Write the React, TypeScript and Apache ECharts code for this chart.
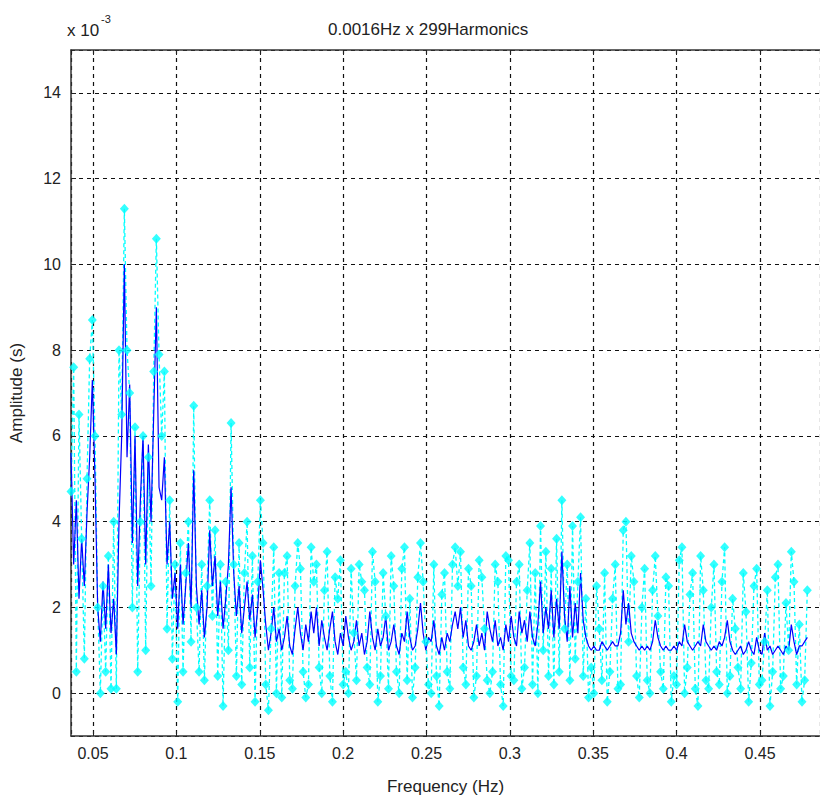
import React, { useEffect, useRef } from "react";
import * as echarts from "echarts";

// Frequency grid: harmonic index * base frequency
const BASE_FREQ = 0.0016;
const FIRST_HARMONIC = 23;

// Blue solid spectrum (x 10^-3 s)
const blueValues: number[] = [
  5.6, 3.0, 4.5, 2.2, 3.6, 2.5, 4.2, 5.5, 7.3, 5.0,
  2.0, 1.2, 2.6, 1.5, 3.0, 1.4, 2.2, 0.9, 4.0, 6.0,
  10.0, 5.5, 7.2, 3.5, 6.0, 2.5, 4.5, 6.0, 3.0, 5.8,
  4.0, 6.5, 9.0, 4.8, 4.5, 5.5, 3.0, 4.0, 2.2, 2.8,
  1.5, 3.0, 1.6, 2.5, 3.5, 2.0, 5.2, 2.5, 1.6, 2.4,
  1.3, 2.0, 3.8, 2.5, 3.2, 1.8, 2.6, 1.5, 2.2, 3.0,
  4.8, 2.8, 1.8, 2.5, 1.4, 2.0, 2.6, 1.7, 2.3, 1.3,
  2.0, 3.1, 2.4, 1.6, 1.0, 1.4, 2.0, 1.2, 1.5, 1.0,
  1.3, 1.8, 1.1, 0.9, 1.5, 2.0, 1.4, 1.0, 1.6, 1.2,
  1.9, 1.4, 2.0, 1.1, 1.7, 1.3, 1.0, 1.5, 1.9, 1.2,
  0.9, 1.4, 1.1, 1.8, 1.3, 1.0, 1.2, 1.7, 1.1, 1.4,
  0.9, 1.2, 1.9, 1.3, 1.0, 1.5, 1.1, 1.3, 1.8, 1.0,
  1.2, 1.6, 1.1, 0.9, 1.4, 1.2, 1.9, 1.3, 1.0, 1.1,
  1.5, 2.1, 1.4, 1.0, 1.3, 1.2, 1.7, 1.1, 0.9, 1.3,
  1.0, 1.4, 1.2, 1.6, 1.9, 1.5, 2.0, 1.3, 1.7, 1.1,
  1.0, 1.2, 1.6, 1.1, 1.4, 1.0, 1.9, 1.5, 1.2, 1.7,
  1.1, 1.3, 1.0, 1.6, 1.2, 1.8, 1.3, 1.1, 1.9, 1.4,
  1.7, 1.2, 1.9, 1.3, 1.1, 1.6, 2.6, 1.4, 2.0, 1.5,
  2.4, 1.3, 2.2, 1.5, 3.3, 1.8, 1.2, 2.5, 1.3, 2.1,
  1.4, 2.8, 1.7, 1.3, 1.1, 1.0, 1.1, 1.0, 1.0, 1.2,
  1.1, 1.0, 1.1, 1.2, 1.1, 1.1, 1.4, 2.4, 1.6, 2.1,
  1.4, 1.2, 1.1, 1.0, 1.1, 1.0, 1.1, 1.0, 1.2, 1.7,
  1.3, 1.1, 1.0, 1.1, 1.0, 1.0, 1.1, 1.0, 1.2, 1.1,
  1.6, 1.2, 1.1, 1.0, 1.1, 1.2, 1.1, 1.6, 1.2, 1.1,
  1.0, 1.1, 1.0, 1.2, 1.1, 1.3, 1.7, 1.2, 1.0, 0.9,
  1.0, 1.1, 0.9, 1.0, 1.2, 1.0, 0.9, 1.3, 1.0, 0.9,
  1.4, 1.0, 1.1, 0.9, 1.0, 1.1, 1.0, 0.9, 1.1, 1.0,
  1.6, 1.2, 0.9, 1.1, 1.1, 1.2, 1.3,
];

// Cyan dashed spectrum with diamond markers (x 10^-3 s)
const cyanValues: number[] = [
  4.7, 7.6, 0.5, 6.5, 3.6, 0.8, 5.0, 7.8, 8.7, 6.0,
  2.0, 0.0, 2.5, 0.5, 3.2, 0.1, 4.0, 0.1, 8.0, 6.5,
  11.3, 8.0, 7.0, 2.0, 6.2, 0.5, 4.0, 6.0, 1.0, 5.5,
  2.5, 7.5, 10.6, 7.9, 6.0, 7.5, 1.5, 4.5, 0.8, 3.0,
  -0.2, 3.5, 0.5, 2.8, 4.0, 1.2, 6.7, 2.0, 0.5, 3.0,
  0.3, 2.5, 4.5, 1.8, 3.8, 0.4, 3.0, -0.3, 2.6, 1.0,
  6.3, 3.0, 0.4, 3.5, 0.2, 2.8, 4.0, 0.6, 3.2, -0.2,
  2.6, 4.5, 3.5, 0.2, -0.4, 1.5, 3.4, 0.0, 2.8, -0.1,
  2.8, 3.2, 0.3, 0.1, 2.5, 3.5, 2.9, 0.5, -0.1, 0.2,
  3.4, 2.6, 3.0, 0.6, 0.0, 2.4, 3.3, 0.4, -0.2, 2.7,
  2.2, 3.1, 0.2, 0.5, 0.0, 2.9, 1.4, 0.3, 3.0, 2.6,
  2.4, 0.6, 0.2, 3.3, 2.6, -0.2, 0.4, 2.8, 1.8, 0.1,
  3.2, 2.5, 0.5, 0.0, 2.9, 3.4, 0.3, 2.2, -0.1, 0.6,
  2.7, 3.5, 2.6, 1.2, 0.2, 0.0, 3.0, 0.4, -0.3, 2.3,
  2.8, 0.5, 0.1, 3.0, 3.4, 2.5, 3.3, 0.6, 0.2, 2.9,
  2.5, -0.1, 0.4, 3.1, 2.7, 1.5, 0.3, 0.0, 0.5, 3.0,
  2.6, 0.2, -0.3, 3.2, 3.1, 0.4, 0.3, 2.6, 3.0, 0.1,
  0.6, 2.4, 3.5, 0.2, 2.8, 0.0, 3.9, 1.0, 3.3, 0.4,
  2.9, 0.2, 3.6, 0.5, 4.5, 1.5, 3.0, 0.3, 3.9, 0.8,
  2.6, 4.1, 0.4, 2.2, -0.1, 0.6, 0.0, 2.5, 1.5, 0.3,
  2.8, -0.2, 0.5, 2.2, 3.0, 0.1, 0.2, 3.8, 4.0, 1.2,
  3.2, 2.6, 0.4, -0.1, 2.0, 2.9, 0.3, 0.0, 2.4, 3.2,
  1.8, 0.5, 0.1, 2.7, 2.5, -0.2, 0.4, 0.2, 3.1, 3.4,
  0.0, 0.6, 2.3, 2.8, 0.1, -0.3, 3.2, 2.4, 0.3, 0.1,
  2.0, 3.0, 0.5, 0.2, 2.6, 3.4, 0.0, 0.4, 2.2, 1.5,
  0.6, 0.1, 2.8, 1.9, -0.2, 0.7, 2.5, 2.9, 0.2, 0.3,
  1.2, 2.4, -0.3, 0.5, 2.7, 3.0, 0.1, 0.4, 2.1, 1.0,
  3.3, 2.6, 0.2, 1.6, -0.2, 0.3, 2.4,
];

const xTickStep = 0.05;
const yTickStep = 2;

const FONT = "'Liberation Sans', Arial, sans-serif";

export default function App() {
  const ref = useRef<HTMLDivElement>(null);

  useEffect(() => {
    if (!ref.current) return;
    const chart = echarts.init(ref.current, null, { renderer: "svg" });

    const freq = (i: number) => +(BASE_FREQ * (FIRST_HARMONIC + i)).toFixed(4);
    const blueData = blueValues.map((v, i) => [freq(i), v]);
    const cyanData = cyanValues.map((v, i) => [freq(i), v]);

    const gridLine = { show: true, lineStyle: { color: "#111", type: [4, 4], width: 1.2 } };
    const axisLineStyle = { show: true, onZero: false, lineStyle: { color: "#333", width: 1.5 } };
    const tickStyle = { show: true, inside: true, length: 5, lineStyle: { color: "#222" } };

    const option: any = {
      animation: false,
      backgroundColor: "#fff",
      grid: { left: 70, right: 0, top: 50, bottom: 63, containLabel: false },
      xAxis: [
        {
          type: "value",
          min: 0.0368,
          max: 0.486,
          minInterval: xTickStep,
          maxInterval: xTickStep,
          splitNumber: 9,
          axisLine: axisLineStyle,
          axisTick: tickStyle,
          axisLabel: {
            color: "#222",
            fontSize: 16,
            fontFamily: FONT,
            margin: 9,
            showMinLabel: false,
            showMaxLabel: false,
            formatter: (v: number) => {
              const r = v / xTickStep;
              return Math.abs(r - Math.round(r)) < 1e-6 ? String(+v.toFixed(2)) : "";
            },
          },
          splitLine: gridLine,
          name: "Frequency (Hz)",
          nameLocation: "middle",
          nameGap: 42,
          nameTextStyle: { color: "#222", fontSize: 17, fontFamily: FONT },
        },
        {
          type: "value",
          position: "top",
          min: 0.0368,
          max: 0.486,
          minInterval: xTickStep,
          maxInterval: xTickStep,
          splitNumber: 9,
          axisLine: axisLineStyle,
          axisTick: tickStyle,
          axisLabel: { show: false },
          splitLine: { show: false },
        },
      ],
      yAxis: [
        {
          type: "value",
          min: -1,
          max: 15,
          minInterval: yTickStep,
          maxInterval: yTickStep,
          splitNumber: 8,
          axisLine: axisLineStyle,
          axisTick: tickStyle,
          axisLabel: {
            color: "#222",
            fontSize: 16,
            fontFamily: FONT,
            margin: 10,
            showMinLabel: false,
            showMaxLabel: false,
            formatter: (v: number) => {
              const r = v / yTickStep;
              return Math.abs(r - Math.round(r)) < 1e-6 ? String(v) : "";
            },
          },
          splitLine: gridLine,
          name: "Amplitude (s)",
          nameLocation: "middle",
          nameGap: 46,
          nameRotate: 90,
          nameTextStyle: { color: "#222", fontSize: 17, fontFamily: FONT },
        },
      ],
      graphic: [
        {
          type: "text",
          left: 328,
          top: 21,
          style: { text: "0.0016Hz x 299Harmonics", fontSize: 17, fontFamily: FONT, fill: "#222" },
        },
        {
          type: "text",
          left: 67,
          top: 22,
          style: { text: "x 10", fontSize: 17, fontFamily: FONT, fill: "#222" },
        },
        {
          type: "text",
          left: 101,
          top: 13,
          style: { text: "-3", fontSize: 11, fontFamily: FONT, fill: "#222" },
        },
      ],
      series: [
        {
          type: "line",
          data: cyanData,
          showSymbol: false,
          symbol: "none",
          lineStyle: { color: "#00ffff", width: 1.3, type: [4, 3] },
          z: 2,
        },
        {
          type: "line",
          data: blueData,
          showSymbol: false,
          symbol: "none",
          lineStyle: { color: "#0000ff", width: 1.2 },
          z: 3,
        },
        {
          type: "scatter",
          data: cyanData,
          symbol: "diamond",
          symbolSize: [9, 10],
          itemStyle: { color: "#00ffff" },
          z: 4,
        },
      ],
    };

    chart.setOption(option);
    return () => chart.dispose();
  }, []);

  return (
    <div
      ref={ref}
      style={{ position: "absolute", left: 0, top: 0, width: 820, height: 800, background: "#fff" }}
    />
  );
}
